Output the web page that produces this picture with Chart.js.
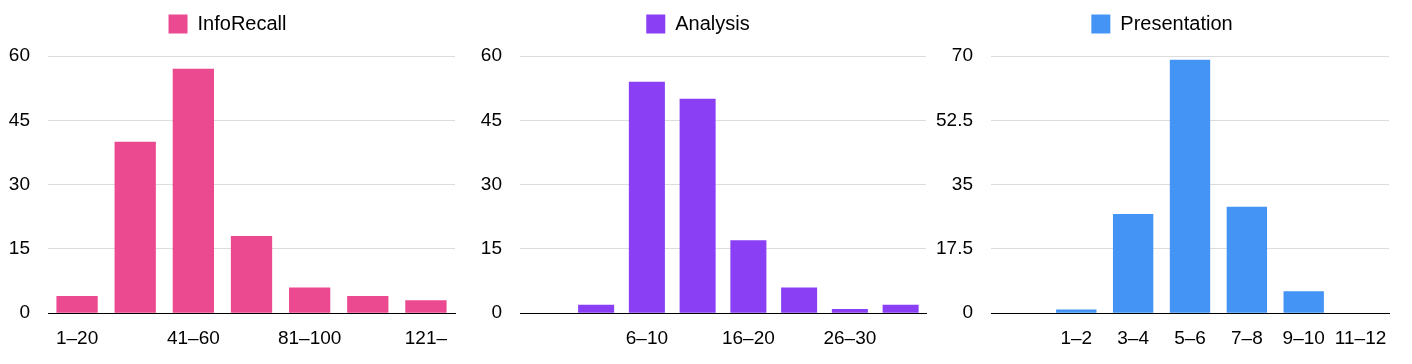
<!DOCTYPE html>
<html>
<head>
<meta charset="utf-8">
<script src="https://cdn.jsdelivr.net/npm/chart.js@4"></script>
<style>
  html, body { margin: 0; padding: 0; background: #fff; }
  .wrap { position: relative; width: 1412px; height: 364px; }
  .box { position: absolute; top: 0; height: 364px; }
</style>
</head>
<body>
<div class="wrap">
  <div class="box" style="left:0px;width:460px"><canvas id="c1"></canvas></div>
  <div class="box" style="left:470px;width:460px"><canvas id="c2"></canvas></div>
  <div class="box" style="left:935px;width:470px"><canvas id="c3"></canvas></div>
</div>
<script>
// InfoRecall
const infoLabels = ['1–20', '21–40', '41–60', '61–80', '81–100', '101–120', '121–'];
const infoValues = [4, 40, 57, 18, 6, 4, 3];
const infoTicks = [0, 15, 30, 45, 60];

// Analysis
const analysisLabels = ['', '1–5', '6–10', '11–15', '16–20', '21–25', '26–30', '31–'];
const analysisValues = [0, 2, 54, 50, 17, 6, 1, 2];
const analysisTicks = [0, 15, 30, 45, 60];

// Presentation
const presLabels = ['', '1–2', '3–4', '5–6', '7–8', '9–10', '11–12'];
const presValues = [0, 1, 27, 69, 29, 6, 0];
const presTicks = [0, 17.5, 35, 52.5, 70];

const FONT = '"Liberation Sans", Arial, sans-serif';

// extra room under the legend
const legendGap = {
    id: 'legendGap',
    beforeInit(chart) {
        const fit = chart.legend.fit;
        chart.legend.fit = function() {
            fit.bind(chart.legend)();
            this.height += 12;
        };
    }
};

function makeChart(id, name, labels, values, color, ticks, everyOther, yWidth, padRight) {
    const ctx = document.getElementById(id).getContext('2d');
    return new Chart(ctx, {
        type: 'bar',
        data: {
            labels: labels,
            datasets: [{
                label: name,
                data: values,
                backgroundColor: color,
                borderColor: color,
                borderWidth: 0,
                categoryPercentage: 1,
                barPercentage: 0.71
            }]
        },
        plugins: [legendGap],
        options: {
            responsive: true,
            maintainAspectRatio: false,
            animation: false,
            layout: { padding: { top: 4, right: padRight, bottom: 8, left: 0 } },
            plugins: {
                tooltip: { enabled: false },
                legend: {
                    labels: {
                        boxWidth: 19,
                        boxHeight: 19,
                        color: '#000',
                        padding: 10,
                        font: { family: FONT, size: 20 }
                    }
                }
            },
            scales: {
                x: {
                    grid: { display: false },
                    border: { display: true, color: '#000', width: 1 },
                    ticks: {
                        autoSkip: false,
                        maxRotation: 0,
                        minRotation: 0,
                        padding: 6,
                        color: '#000',
                        font: { family: FONT, size: 19 },
                        callback: function(val, i) {
                            if (everyOther && i % 2 === 1) return '';
                            return this.getLabelForValue(val);
                        }
                    }
                },
                y: {
                    min: ticks[0],
                    max: ticks[ticks.length - 1],
                    afterBuildTicks: scale => { scale.ticks = ticks.map(v => ({ value: v })); },
                    afterFit: scale => { scale.width = yWidth; },
                    grid: {
                        drawTicks: false,
                        color: c => (c.tick && c.tick.value === 0) ? '#000' : '#dcdcdc'
                    },
                    border: { display: false },
                    ticks: {
                        padding: 18,
                        color: '#000',
                        font: { family: FONT, size: 19 },
                        callback: v => String(v)
                    }
                }
            }
        }
    });
}

makeChart('c1', 'InfoRecall', infoLabels, infoValues, '#EB4990', infoTicks, true, 48, 5);
makeChart('c2', 'Analysis', analysisLabels, analysisValues, '#8A3FF4', analysisTicks, true, 50, 4);
makeChart('c3', 'Presentation', presLabels, presValues, '#4394F5', presTicks, false, 56, 16);
</script>
</body>
</html>
